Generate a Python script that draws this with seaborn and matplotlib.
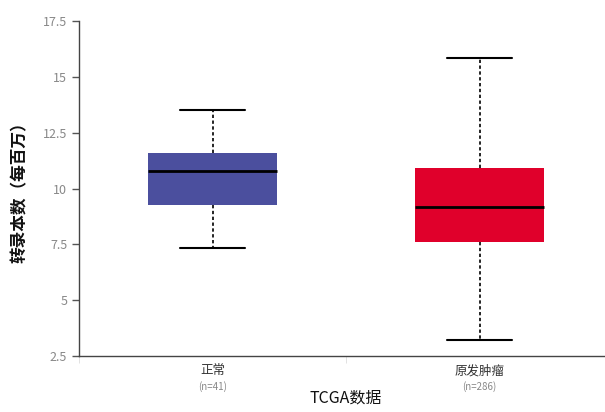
import numpy as np
import pandas as pd
import matplotlib
matplotlib.use("Agg")
import matplotlib.pyplot as plt
import seaborn as sns

# Five-number summaries: min, Q1, median, Q3, max
groups = ["正常", "原发肿瘤"]
counts = ["(n=41)", "(n=286)"]
normal_vals = [7.34, 9.26, 10.78, 11.59, 13.52]
tumor_vals = [3.22, 7.60, 9.17, 10.92, 15.85]
box_colors = ["#4b4f9e", "#e0002b"]
y_ticks = [2.5, 5, 7.5, 10, 12.5, 15, 17.5]
y_tick_labels = ["2.5", "5", "7.5", "10", "12.5", "15", "17.5"]

data = pd.DataFrame({
    "group": [groups[0]] * len(normal_vals) + [groups[1]] * len(tumor_vals),
    "value": normal_vals + tumor_vals,
})

sns.set_style("white")
plt.rcParams["font.family"] = ["Noto Sans CJK SC", "DejaVu Sans"]

fig = plt.figure(figsize=(6.05, 4.12), dpi=100)
ax = fig.add_axes([79 / 605, 1 - 356 / 412, (613 - 79) / 605, (356 - 21) / 412])

sns.boxplot(
    data=data, x="group", y="value", hue="group", palette=box_colors,
    saturation=1, whis=(0, 100), width=0.48, linecolor="black", linewidth=1.2,
    medianprops=dict(color="black", linewidth=2),
    whiskerprops=dict(linestyle=(0, (2, 1.5)), color="black", linewidth=1.2),
    capprops=dict(color="black", linewidth=1.5),
    legend=False, ax=ax,
)

# boxes have no visible outline
for p in ax.patches:
    p.set_edgecolor(p.get_facecolor())
    p.set_linewidth(0)

ax.set_xlim(-0.5, 1.5)
ax.set_ylim(2.5, 17.5)
ax.set_yticks(y_ticks)
ax.set_yticklabels(y_tick_labels)
ax.tick_params(axis="y", which="major", direction="out", length=5, width=1,
               color="#555555", labelcolor="#888888", labelsize=9, left=True)
ax.tick_params(axis="x", which="major", length=0, labelsize=9, labelcolor="#333333", pad=6)
ax.set_xticks([-0.5, 0.5, 1.5], minor=True)
ax.tick_params(axis="x", which="minor", direction="out", length=5, color="#dddddd", bottom=True)

for i, c in enumerate(counts):
    ax.text(i, -0.075, c, transform=ax.get_xaxis_transform(), ha="center", va="top",
            fontsize=7, color="#888888")

ax.set_xlabel("TCGA数据", fontsize=11.5, color="#111111", labelpad=9)
ax.set_ylabel("转录本数（每百万）", fontsize=12, fontweight="bold", color="#111111", labelpad=10)

for s in ["top", "right"]:
    ax.spines[s].set_visible(False)
for s in ["left", "bottom"]:
    ax.spines[s].set_color("#444444")
    ax.spines[s].set_linewidth(1)

fig.savefig("out.png", dpi=100)
